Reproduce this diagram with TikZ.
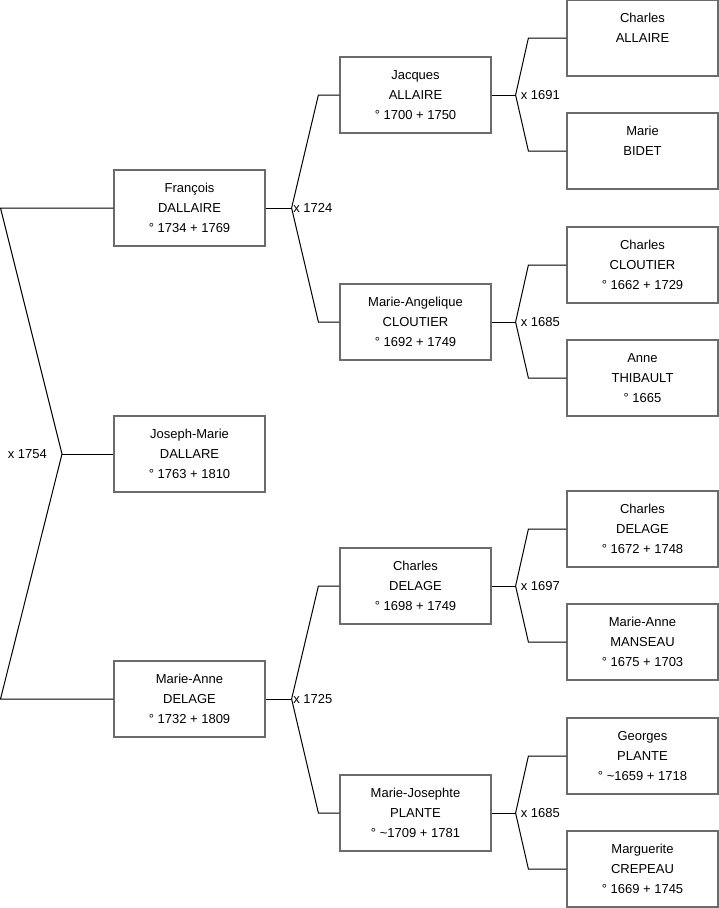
\documentclass[tikz,border=0pt]{standalone}
\usepackage{fontspec}
\setmainfont{Liberation Sans}
\definecolor{BoxClr}{rgb}{0.42,0.42,0.42}
\tikzset{
  person/.style={draw=BoxClr,line width=1.2pt,minimum width=151pt,minimum height=76pt,
    inner sep=0pt,align=center,font=\fontsize{13}{20}\selectfont},
  link/.style={line width=1pt,color=black},
  wed/.style={inner sep=0pt,font=\fontsize{13}{15}\selectfont}
}

\begin{document}
\begin{tikzpicture}[x=1pt,y=-1pt]
\useasboundingbox (0,0) rectangle (719,908);

% children and parents
\node[person] (fra) at (189.5,208) {François\\DALLAIRE\\° 1734 + 1769};
\node[person] (jos) at (189.5,454) {Joseph-Marie\\DALLARE\\° 1763 + 1810};
\node[person] (man) at (189.5,699) {Marie-Anne\\DELAGE\\° 1732 + 1809};

\node[person] (jac) at (415.5,95) {Jacques\\ALLAIRE\\° 1700 + 1750};
\node[person] (mag) at (415.5,322) {Marie-Angelique\\CLOUTIER\\° 1692 + 1749};
\node[person] (cha) at (415.5,586) {Charles\\DELAGE\\° 1698 + 1749};
\node[person] (mjo) at (415.5,813) {Marie-Josephte\\PLANTE\\° \textasciitilde 1709 + 1781};

% grand parents
\node[person] (gp1) at (642.5,38) {Charles\\ALLAIRE\\\mbox{}};
\node[person] (gp2) at (642.5,151) {Marie\\BIDET\\\mbox{}};
\node[person] (gp3) at (642.5,265) {Charles\\CLOUTIER\\° 1662 + 1729};
\node[person] (gp4) at (642.5,378) {Anne\\THIBAULT\\° 1665};
\node[person] (gp5) at (642.5,529) {Charles\\DELAGE\\° 1672 + 1748};
\node[person] (gp6) at (642.5,642) {Marie-Anne\\MANSEAU\\° 1675 + 1703};
\node[person] (gp7) at (642.5,756) {Georges\\PLANTE\\° \textasciitilde 1659 + 1718};
\node[person] (gp8) at (642.5,869) {Marguerite\\CREPEAU\\° 1669 + 1745};

% marriage of the parents
\coordinate (m0) at (62,454);
\draw[link] (fra.west) -- (0.5,208) -- (m0) -- (0.5,699) -- (man.west);
\draw[link] (m0) -- (jos.west);
\node[wed,anchor=east] (w0) at (47,454) {x 1754};

% marriages, first level
\draw[link] (fra.east) -- ++(26,0) coordinate (m1);
\draw[link] (jac.west) -- ++(-21,0) -- (m1) -- ([xshift=-21pt]mag.west) -- (mag.west);
\node[wed,anchor=west] (w1) at ([xshift=1.5pt]m1) {x 1724};

\draw[link] (man.east) -- ++(26,0) coordinate (m2);
\draw[link] (cha.west) -- ++(-21,0) -- (m2) -- ([xshift=-21pt]mjo.west) -- (mjo.west);
\node[wed,anchor=west] (w2) at ([xshift=1.5pt]m2) {x 1725};

% marriages, second level
\draw[link] (jac.east) -- ++(24,0) coordinate (m3);
\draw[link] (gp1.west) -- ++(-38,0) -- (m3) -- ([xshift=-38pt]gp2.west) -- (gp2.west);
\node[wed,anchor=west] (w3) at ([xshift=5pt]m3) {x 1691};

\draw[link] (mag.east) -- ++(24,0) coordinate (m4);
\draw[link] (gp3.west) -- ++(-38,0) -- (m4) -- ([xshift=-38pt]gp4.west) -- (gp4.west);
\node[wed,anchor=west] (w4) at ([xshift=5pt]m4) {x 1685};

\draw[link] (cha.east) -- ++(24,0) coordinate (m5);
\draw[link] (gp5.west) -- ++(-38,0) -- (m5) -- ([xshift=-38pt]gp6.west) -- (gp6.west);
\node[wed,anchor=west] (w5) at ([xshift=5pt]m5) {x 1697};

\draw[link] (mjo.east) -- ++(24,0) coordinate (m6);
\draw[link] (gp7.west) -- ++(-38,0) -- (m6) -- ([xshift=-38pt]gp8.west) -- (gp8.west);
\node[wed,anchor=west] (w6) at ([xshift=5pt]m6) {x 1685};

\end{tikzpicture}
\end{document}
